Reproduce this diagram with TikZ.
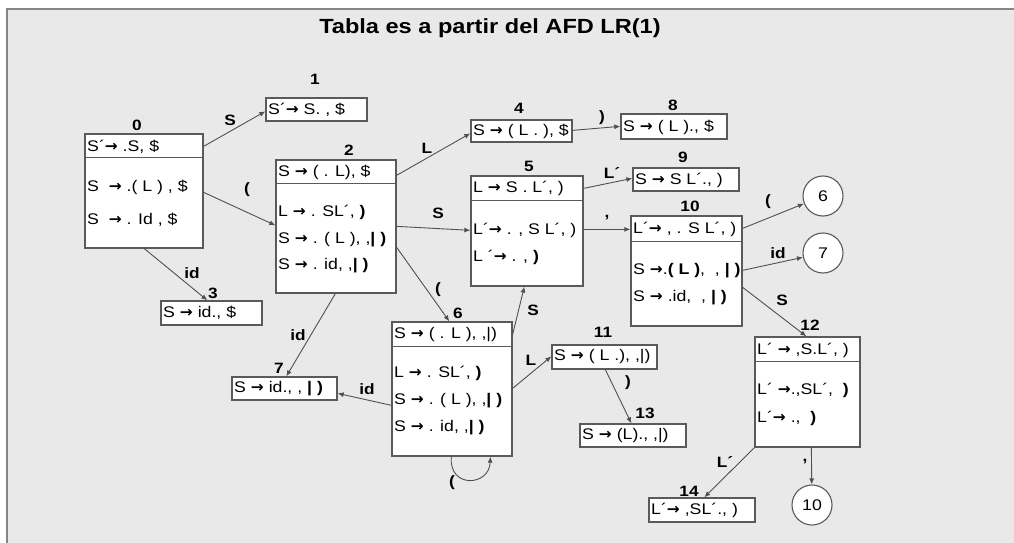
\documentclass[tikz,border=0pt]{standalone}
\usepackage{fontspec}
\setmainfont{Liberation Sans}[FakeStretch=1.15]
\newfontfamily\arrf{DejaVu Sans}
\newcommand\ra{{\arrf\bfseries →}}
\usetikzlibrary{arrows.meta}
\definecolor{bg}{HTML}{E9E9E9}
\definecolor{frm}{HTML}{858585}
\definecolor{bdr}{HTML}{5A5A5A}
\definecolor{edg}{HTML}{505050}
\tikzset{
  sbox/.style={draw=bdr, fill=white, line width=1.3pt, inner sep=0pt},
  divl/.style={draw=bdr, line width=1.3pt},
  txt/.style={anchor=west, inner sep=0pt, font=\fontsize{15.4}{16}\selectfont, text=black},
  num/.style={inner sep=0pt, font=\bfseries\fontsize{15}{16}\selectfont},
  elab/.style={inner sep=0pt, font=\bfseries\fontsize{15}{16}\selectfont},
  edge/.style={draw=edg, line width=0.9pt, -{Latex[length=6pt,width=5pt]}},
  circ/.style={circle, draw=bdr, fill=white, line width=1.1pt, minimum size=40pt, inner sep=0pt, font=\fontsize{15.4}{16}\selectfont},
}
\begin{document}
\begin{tikzpicture}[x=1pt,y=-1pt]
\useasboundingbox (0,0) rectangle (1014,543);
\fill[white] (0,0) rectangle (1014,543);
\draw[frm, line width=2pt, fill=bg] (7,9) rectangle (1030,560);
\node[inner sep=0pt, font=\bfseries\fontsize{20.5}{22}\selectfont] (title) at (490,28) {Tabla es a partir del AFD LR(1)};

% boxes
\node[sbox, minimum width=118pt, minimum height=114pt] (b0) at (144,191) {};
\draw[divl] ([yshift=-24pt]b0.north west) -- ([yshift=-24pt]b0.north east);
\node[sbox, minimum width=101pt, minimum height=23pt] (b1) at (316.5,109.5) {};
\node[sbox, minimum width=120pt, minimum height=133pt] (b2) at (336,226.5) {};
\draw[divl] ([yshift=-24pt]b2.north west) -- ([yshift=-24pt]b2.north east);
\node[sbox, minimum width=101pt, minimum height=24pt] (b3) at (211.5,313) {};
\node[sbox, minimum width=101pt, minimum height=22pt] (b4) at (521.5,131) {};
\node[sbox, minimum width=112pt, minimum height=110pt] (b5) at (527,231) {};
\draw[divl] ([yshift=-25pt]b5.north west) -- ([yshift=-25pt]b5.north east);
\node[sbox, minimum width=120pt, minimum height=134pt] (b6) at (452,389) {};
\draw[divl] ([yshift=-25pt]b6.north west) -- ([yshift=-25pt]b6.north east);
\node[sbox, minimum width=105pt, minimum height=23pt] (b7) at (284.5,388.5) {};
\node[sbox, minimum width=106pt, minimum height=25pt] (b8) at (674,126.5) {};
\node[sbox, minimum width=106pt, minimum height=23pt] (b9) at (686,179.5) {};
\node[sbox, minimum width=111pt, minimum height=110pt] (b10) at (686.5,271) {};
\draw[divl] ([yshift=-26pt]b10.north west) -- ([yshift=-26pt]b10.north east);
\node[sbox, minimum width=105pt, minimum height=24pt] (b11) at (604.5,357) {};
\node[sbox, minimum width=105pt, minimum height=110pt] (b12) at (807.5,392) {};
\draw[divl] ([yshift=-25pt]b12.north west) -- ([yshift=-25pt]b12.north east);
\node[sbox, minimum width=106pt, minimum height=23pt] (b13) at (633,435.5) {};
\node[sbox, minimum width=106pt, minimum height=24pt] (b14) at (702,510) {};
\node[circ] (c6) at (823,196) {6};
\node[circ] (c7) at (823,253) {7};
\node[circ] (c10) at (812,505) {10};

% state numbers
\node[num] (n0) at (137,125) {0};
\node[num] (n1) at (315,79) {1};
\node[num] (n2) at (349,150) {2};
\node[num] (n3) at (213,293) {3};
\node[num] (n4) at (519,108) {4};
\node[num] (n5) at (529,166) {5};
\node[num] (n6) at (458,313) {6};
\node[num] (n7) at (279,368) {7};
\node[num] (n8) at (673,105) {8};
\node[num] (n9) at (683,157) {9};
\node[num] (n10) at (690,206) {10};
\node[num] (n11) at (603,332) {11};
\node[num] (n12) at (810,325) {12};
\node[num] (n13) at (645,413) {13};
\node[num] (n14) at (689,491) {14};

% texts
\node[txt] (t0h) at (87,147) {S´\ra{} .S, \$};
\node[txt] (t0a) at (87,187) {S \ \ra{} .( L ) , \$};
\node[txt] (t0b) at (87,220) {S \ \ra{} . Id , \$};
\node[txt] (t1) at (268,110) {S´\ra{} S. , \$};
\node[txt] (t2h) at (278,172) {S \ra{} ( . L), \$};
\node[txt] (t2a) at (278,212) {L \ra{} . SL´, {\bfseries)}};
\node[txt] (t2b) at (278,240) {S \ra{} . ( L ), ,{\bfseries| )}};
\node[txt] (t2c) at (278,266) {S \ra{} . id, ,{\bfseries| )}};
\node[txt] (t3) at (163,313) {S \ra{} id., \$};
\node[txt] (t4) at (473,131) {S \ra{} ( L . ), \$};
\node[txt] (t5h) at (473,188) {L \ra{} S . L´, )};
\node[txt] (t5a) at (473,230) {L´\ra{} . , S L´, )};
\node[txt] (t5b) at (473,257) {L ´\ra{} . , {\bfseries)}};
\node[txt] (t6h) at (394,335) {S \ra{} ( . L ), ,|)};
\node[txt] (t6a) at (394,373) {L \ra{} . SL´, {\bfseries)}};
\node[txt] (t6b) at (394,401) {S \ra{} . ( L ), ,{\bfseries| )}};
\node[txt] (t6c) at (394,428) {S \ra{} . id, ,{\bfseries| )}};
\node[txt] (t7) at (234,389) {S \ra{} id., , {\bfseries| )}};
\node[txt] (t8) at (623,127) {S \ra{} ( L )., \$};
\node[txt] (t9) at (635,180) {S \ra{} S L´., )};
\node[txt] (t10h) at (633,229) {L´\ra{} , . S L´, )};
\node[txt] (t10a) at (633,271) {S \ra{}.{\bfseries( L )}, \ , {\bfseries| )}};
\node[txt] (t10b) at (633,298) {S \ra{} .id, \ , {\bfseries| )}};
\node[txt] (t11) at (554,357) {S \ra{} ( L .), ,|)};
\node[txt] (t12h) at (757,350) {L´ \ra{} ,S.L´, )};
\node[txt] (t12a) at (757,390) {L´ \ra{}.,SL´, \ {\bfseries)}};
\node[txt] (t12b) at (757,418) {L´\ra{} ., \ {\bfseries)}};
\node[txt] (t13) at (582,436) {S \ra{} (L)., ,|)};
\node[txt] (t14) at (651,510) {L´\ra{} ,SL´., )};

% edges
\draw[edge] ([yshift=-13pt]b0.north east) -- ([yshift=-14pt]b1.north west);
\draw[edge] ([yshift=-59pt]b0.north east) -- ([yshift=-66pt]b2.north west);
\draw[edge] ([xshift=60pt]b0.south west) -- ([xshift=47pt]b3.north west);
\draw[edge] ([yshift=-16pt]b2.north east) -- ([yshift=-14pt]b4.north west);
\draw[edge] ([yshift=-67pt]b2.north east) -- ([yshift=-55pt]b5.north west);
\draw[edge] ([yshift=-88pt]b2.north east) -- ([xshift=58pt]b6.north west);
\draw[edge] ([xshift=60pt]b2.south west) -- ([xshift=55pt]b7.north west);
\draw[edge] ([yshift=-11pt]b4.north east) -- ([yshift=-13pt]b8.north west);
\draw[edge] ([yshift=-13pt]b5.north east) -- ([yshift=-11pt]b9.north west);
\draw[edge] ([yshift=-54pt]b5.north east) -- ([yshift=-14pt]b10.north west);
\draw[edge] ([yshift=-13pt]b10.north east) -- (c6);
\draw[edge] ([yshift=-55pt]b10.north east) -- (c7);
\draw[edge] ([yshift=-72pt]b10.north east) -- ([xshift=52pt]b12.north west);
\draw[edge] ([yshift=-13pt]b6.north east) -- ([xshift=54pt]b5.south west);
\draw[edge] ([yshift=-84pt]b6.north west) -- ([yshift=-17pt]b7.north east);
\draw[edge] ([yshift=-67pt]b6.north east) -- ([yshift=-12pt]b11.north west);
\draw[edge] ([xshift=60pt]b6.south west) .. controls +(-3,32) and +(-1,30) .. ([xshift=99pt]b6.south west);
\draw[edge] ([xshift=54pt]b11.south west) -- ([xshift=52pt]b13.north west);
\draw[edge] (b12.south west) -- ([xshift=56pt]b14.north west);
\draw[edge] ([xshift=57pt]b12.south west) -- (c10);

% edge labels
\node[elab] (l01) at (230,120) {S};
\node[elab] (l02) at (247,190) {(};
\node[elab] (l03) at (192,273) {id};
\node[elab] (l24) at (427,148) {L};
\node[elab] (l25) at (438,213) {S};
\node[elab] (l26) at (438,290) {(};
\node[elab] (l27) at (298,335) {id};
\node[elab] (l48) at (602,118) {)};
\node[elab] (l59) at (612,173) {L´};
\node[elab] (l510) at (607,218) {,};
\node[elab] (l106) at (768,202) {(};
\node[elab] (l107) at (778,253) {id};
\node[elab] (l1012) at (782,300) {S};
\node[elab] (l65) at (533,310) {S};
\node[elab] (l611) at (531,360) {L};
\node[elab] (l67) at (367,389) {id};
\node[elab] (l66) at (452,483) {(};
\node[elab] (l1113) at (628,383) {)};
\node[elab] (l1214) at (725,462) {L´};
\node[elab] (l1210) at (805,462) {,};
\end{tikzpicture}
\end{document}
